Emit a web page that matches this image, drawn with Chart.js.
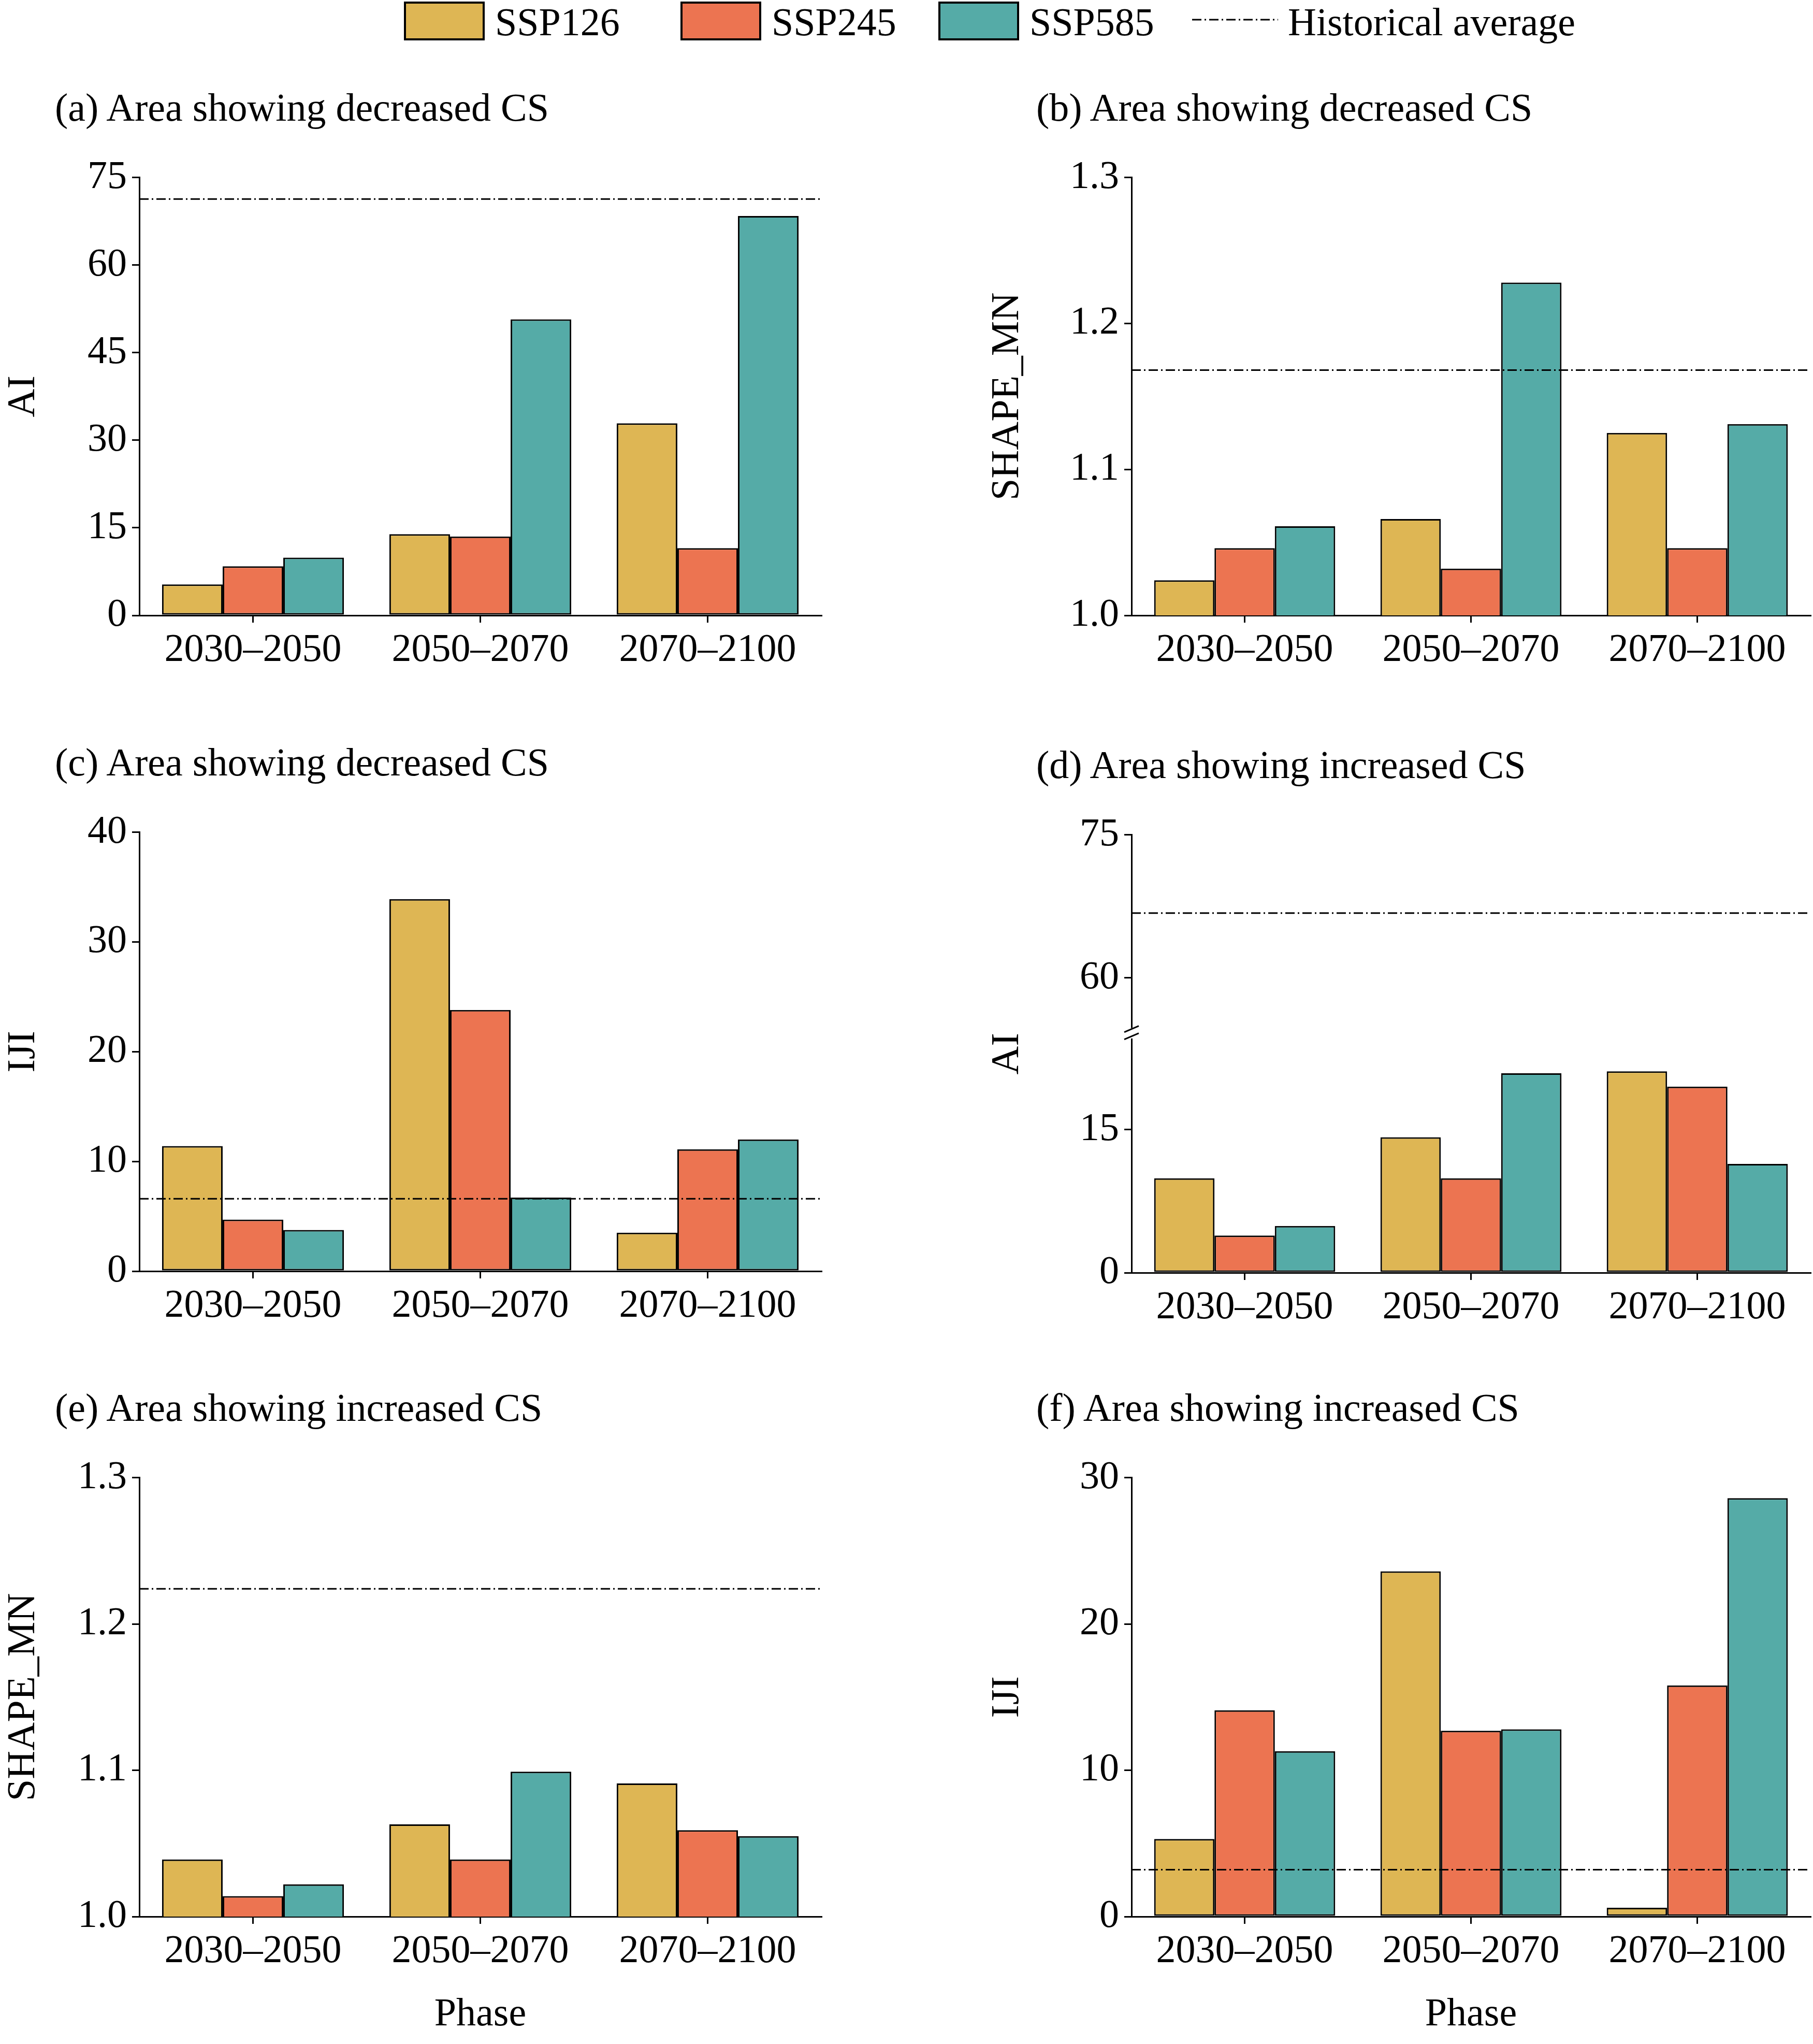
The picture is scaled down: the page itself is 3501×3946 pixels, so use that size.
<!DOCTYPE html>
<html><head><meta charset="utf-8">
<script src="https://cdn.jsdelivr.net/npm/chart.js@4"></script>
<style>
body{margin:0;background:#fff;width:3501px;height:3946px;position:relative;overflow:hidden;font-family:"Liberation Serif",serif;}
canvas{position:absolute;}
.t{position:absolute;font-size:76px;line-height:1;white-space:nowrap;color:#000;}
.box{position:absolute;border:4px solid #000;box-sizing:border-box;}
</style></head><body>
<script>
const phases = ["2030–2050","2050–2070","2070–2100"];
const scenarios = ["SSP126","SSP245","SSP585"];
const colors = ["#DEB654","#EC7451","#55ABA7"];
// panel values: [SSP126, SSP245, SSP585] per phase
const aSSP126=[5.3,13.9,32.9], aSSP245=[8.4,13.5,11.5], aSSP585=[9.9,50.7,68.4], aHist=71.3;
const bSSP126=[1.024,1.066,1.125], bSSP245=[1.046,1.032,1.046], bSSP585=[1.061,1.228,1.131], bHist=1.168;
const cSSP126=[11.4,33.9,3.5], cSSP245=[4.7,23.8,11.1], cSSP585=[3.75,6.7,12.0], cHist=6.6;
const dSSP126=[9.9,14.2,21.1], dSSP245=[3.9,9.9,19.5], dSSP585=[4.9,20.9,11.4], dHist=66.8;
const eSSP126=[1.039,1.063,1.091], eSSP245=[1.014,1.039,1.059], eSSP585=[1.022,1.099,1.055], eHist=1.224;
const fSSP126=[5.3,23.6,0.6], fSSP245=[14.1,12.7,15.8], fSSP585=[11.3,12.8,28.6], fHist=3.2;
const aTicks=[0,15,30,45,60,75], bTicks=[1.0,1.1,1.2,1.3], cTicks=[0,10,20,30,40], dTicks=[0,15,60,75], eTicks=[1.0,1.1,1.2,1.3], fTicks=[0,10,20,30];

// broken axis mapping for panel d
const BRK_LOW=25, OFF=60-30.9;
const dMap=v=> v<BRK_LOW ? v : v-OFF;

const panels=[
 {id:'a',title:'(a) Area showing decreased CS',yl:'AI',vals:[aSSP126,aSSP245,aSSP585],hist:aHist,ticks:aTicks,min:0,max:75,dec:0,pl:269,pr:1586,pt:332,pb:1188,yW:269,xH:190},
 {id:'b',title:'(b) Area showing decreased CS',yl:'SHAPE_MN',vals:[bSSP126,bSSP245,bSSP585],hist:bHist,ticks:bTicks,min:1,max:1.3,dec:1,pl:2185,pr:3496,pt:332,pb:1188,yW:285,xH:190},
 {id:'c',title:'(c) Area showing decreased CS',yl:'IJI',vals:[cSSP126,cSSP245,cSSP585],hist:cHist,ticks:cTicks,min:0,max:40,dec:0,pl:269,pr:1586,pt:1596,pb:2454,yW:269,xH:190},
 {id:'d',title:'(d) Area showing increased CS',yl:'AI',vals:[dSSP126,dSSP245,dSSP585],hist:dHist,ticks:dTicks,min:0,max:75,dec:0,pl:2185,pr:3496,pt:1601,pb:2457,yW:285,xH:190,brk:true},
 {id:'e',title:'(e) Area showing increased CS',yl:'SHAPE_MN',vals:[eSSP126,eSSP245,eSSP585],hist:eHist,ticks:eTicks,min:1,max:1.3,dec:1,pl:269,pr:1586,pt:2842,pb:3700,yW:269,xH:240,phase:true},
 {id:'f',title:'(f) Area showing increased CS',yl:'IJI',vals:[fSSP126,fSSP245,fSSP585],hist:fHist,ticks:fTicks,min:0,max:30,dec:0,pl:2185,pr:3496,pt:2842,pb:3700,yW:285,xH:240,phase:true},
];

// legend
function add(html){document.body.insertAdjacentHTML('beforeend',html);}
const lgBox=[[780,956],[1314,1490],[1812,1988]];
scenarios.forEach((s,i)=>{
 add(`<div class="box" style="left:${lgBox[i][0]}px;top:3px;width:156px;height:75px;background:${colors[i]}"></div>`);
 add(`<div class="t" style="left:${lgBox[i][1]}px;top:4px;">${s}</div>`);
});
add(`<svg style="position:absolute;left:2300px;top:30px" width="170" height="16"><line x1="2" y1="8" x2="168" y2="8" stroke="#000" stroke-width="3" stroke-dasharray="18,6,3,6"/></svg>`);
add(`<div class="t" style="left:2487px;top:4px;">Historical average</div>`);

const F="'Liberation Serif', serif";
const histPlugin={id:'hist',afterDatasetsDraw(ch,a,o){
 const p=ch.options.plugins.hist; const y=ch.scales.y.getPixelForValue(p.v);
 const c=ch.ctx; c.save(); c.strokeStyle='#000'; c.lineWidth=3; c.setLineDash([18,6,3,6]);
 c.beginPath(); c.moveTo(ch.chartArea.left,y); c.lineTo(ch.chartArea.right,y); c.stroke(); c.restore();
 if(p.brk){ const yb=ch.scales.y.getPixelForValue(25.1); const x=ch.chartArea.left;
  c.save(); c.fillStyle='#fff'; c.fillRect(x-10,yb-10,20,20); c.strokeStyle='#000'; c.lineWidth=3;
  c.beginPath(); c.moveTo(x-14,yb-2); c.lineTo(x+14,yb-14); c.moveTo(x-14,yb+12); c.lineTo(x+14,yb); c.stroke(); c.restore(); }
}};

panels.forEach(p=>{
 const left=p.pl-p.yW, top=p.pt-45, w=p.pr+10-left, h=p.pb-top+p.xH;
 const cv=document.createElement('canvas'); cv.width=w; cv.height=h;
 cv.style.left=left+'px'; cv.style.top=top+'px'; cv.style.width=w+'px'; cv.style.height=h+'px';
 document.body.appendChild(cv);
 const tTop = p.pt-125-38;
 add(`<div class="t" style="left:${p.pl<1000?106:2001}px;top:${tTop}px;">${p.title}</div>`);
 const map = p.brk ? dMap : (v=>v);
 new Chart(cv,{type:'bar',plugins:[histPlugin],
  data:{labels:phases,datasets:scenarios.map((s,i)=>({label:s,data:p.vals[i].map(map),backgroundColor:colors[i],borderColor:'#000',borderWidth:3,borderSkipped:false,barPercentage:1,categoryPercentage:0.8}))},
  options:{responsive:false,devicePixelRatio:1,animation:false,
   layout:{padding:{top:45,right:10,left:0,bottom:0}},
   plugins:{legend:{display:false},tooltip:{enabled:false},hist:{v:map(p.hist),brk:!!p.brk}},
   scales:{
    x:{grid:{drawOnChartArea:false,color:'#000',lineWidth:3,tickLength:14,offset:false},border:{color:'#000',width:3},
       ticks:{color:'#000',font:{family:F,size:76},padding:8,maxRotation:0},
       title:{display:!!p.phase,text:'Phase',color:'#000',font:{family:F,size:76},padding:{top:0}},
       afterFit:s=>{s.height=p.xH;}},
    y:{min:p.brk?0:p.min,max:p.brk?map(75):p.max,
       grid:{drawOnChartArea:false,color:'#000',lineWidth:3,tickLength:14},border:{color:'#000',width:3},
       afterBuildTicks:s=>{s.ticks=p.ticks.map(v=>({value:map(v)}));},
       ticks:{color:'#000',font:{family:F,size:76},padding:10,
        callback:(v)=>{ const real = p.brk ? (v>BRK_LOW? v+OFF : v) : v; return (Math.round(real*1000)/1000).toFixed(p.dec);}},
       title:{display:true,text:p.yl,color:'#000',font:{family:F,size:76},padding:0},
       afterFit:s=>{s.width=p.yW;}}
   }}});
});
</script>
</body></html>
